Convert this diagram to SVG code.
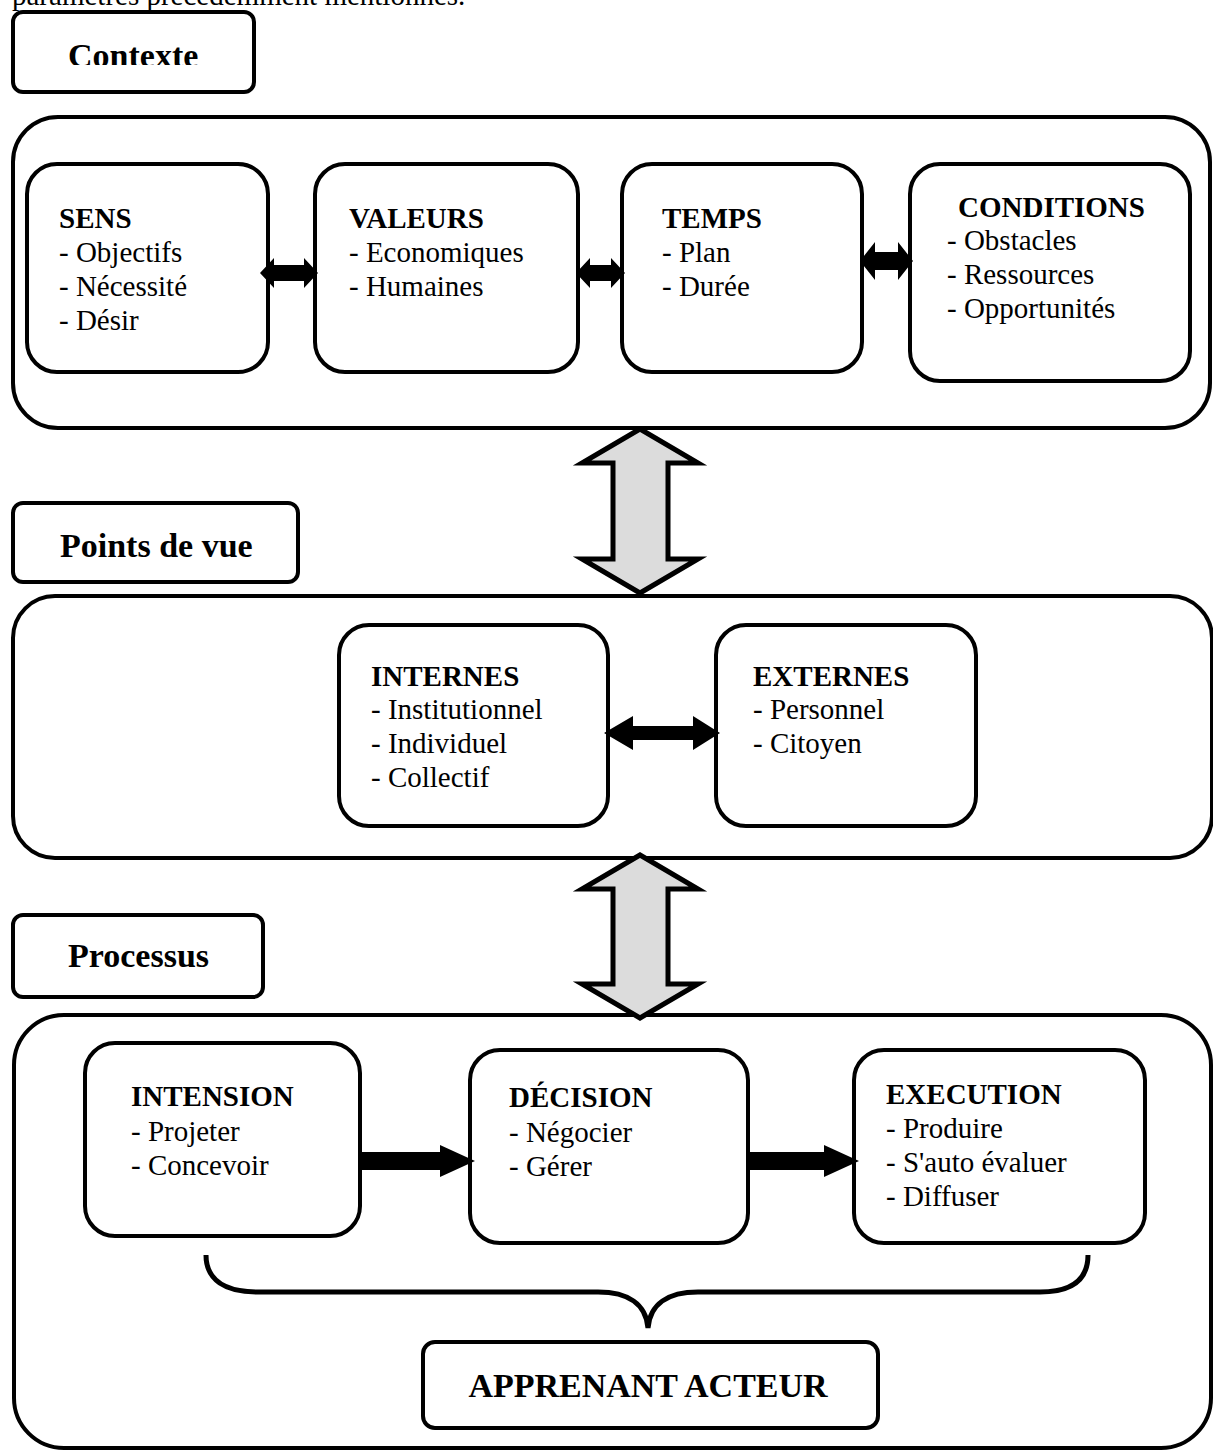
<svg xmlns="http://www.w3.org/2000/svg" width="1213" height="1450" viewBox="0 0 1213 1450">
  <style>
    .box { fill: #fff; stroke: #000; stroke-width: 4; }
    .t { font-family: "Liberation Serif", "Times New Roman", serif; font-size: 29px; fill: #000; }
    .b { font-weight: bold; }
    .title { font-family: "Liberation Serif", "Times New Roman", serif; font-size: 34px; font-weight: bold; fill: #000; }
    .arr { fill: #000; stroke: none; }
    .big { fill: #dcdcdc; stroke: #000; stroke-width: 5; stroke-linejoin: miter; }
  </style>
  <defs>
    <clipPath id="clipContexte">
      <rect x="14" y="14" width="238" height="51"/>
    </clipPath>
  </defs>
  <rect width="1213" height="1450" fill="#fff"/>

  <!-- running text above the figure, cut by the page edge -->
  <text class="t" x="12" y="5">paramètres précédemment mentionnés.</text>

  <!-- section: Contexte -->
  <g id="label-contexte">
    <rect class="box" x="13" y="12" width="241" height="80" rx="10"/>
    <text class="title" x="68" y="67" clip-path="url(#clipContexte)">Contexte</text>
  </g>
  <g id="frame-contexte">
    <rect class="box" x="13" y="117" width="1197" height="311" rx="45"/>
  </g>
  <g id="node-sens">
    <rect class="box" x="27" y="164" width="241" height="208" rx="30"/>
    <text class="t b" x="59" y="228">SENS</text>
    <text class="t" x="59" y="262">- Objectifs</text>
    <text class="t" x="59" y="296">- Nécessité</text>
    <text class="t" x="59" y="330">- Désir</text>
  </g>
  <g id="node-valeurs">
    <rect class="box" x="315" y="164" width="263" height="208" rx="30"/>
    <text class="t b" x="349" y="228">VALEURS</text>
    <text class="t" x="349" y="262">- Economiques</text>
    <text class="t" x="349" y="296">- Humaines</text>
  </g>
  <g id="node-temps">
    <rect class="box" x="622" y="164" width="240" height="208" rx="30"/>
    <text class="t b" x="662" y="228">TEMPS</text>
    <text class="t" x="662" y="262">- Plan</text>
    <text class="t" x="662" y="296">- Durée</text>
  </g>
  <g id="node-conditions">
    <rect class="box" x="910" y="164" width="280" height="217" rx="30"/>
    <text class="t b" x="958" y="217">CONDITIONS</text>
    <text class="t" x="947" y="250">- Obstacles</text>
    <text class="t" x="947" y="284">- Ressources</text>
    <text class="t" x="947" y="318">- Opportunités</text>
  </g>

  <!-- section: Points de vue -->
  <g id="label-points-de-vue">
    <rect class="box" x="13" y="503" width="285" height="79" rx="10"/>
    <text class="title" x="60" y="557">Points de vue</text>
  </g>
  <g id="frame-points-de-vue">
    <rect class="box" x="13" y="596" width="1199" height="262" rx="42"/>
  </g>
  <g id="node-internes">
    <rect class="box" x="339" y="625" width="269" height="201" rx="30"/>
    <text class="t b" x="371" y="686">INTERNES</text>
    <text class="t" x="371" y="719">- Institutionnel</text>
    <text class="t" x="371" y="753">- Individuel</text>
    <text class="t" x="371" y="787">- Collectif</text>
  </g>
  <g id="node-externes">
    <rect class="box" x="716" y="625" width="260" height="201" rx="30"/>
    <text class="t b" x="753" y="686">EXTERNES</text>
    <text class="t" x="753" y="719">- Personnel</text>
    <text class="t" x="753" y="753">- Citoyen</text>
  </g>

  <!-- section: Processus -->
  <g id="label-processus">
    <rect class="box" x="13" y="915" width="250" height="82" rx="10"/>
    <text class="title" x="68" y="967">Processus</text>
  </g>
  <g id="frame-processus">
    <rect class="box" x="14" y="1015" width="1197" height="433" rx="50"/>
  </g>
  <g id="node-intension">
    <rect class="box" x="85" y="1043" width="275" height="193" rx="30"/>
    <text class="t b" x="131" y="1106">INTENSION</text>
    <text class="t" x="131" y="1141">- Projeter</text>
    <text class="t" x="131" y="1175">- Concevoir</text>
  </g>
  <g id="node-decision">
    <rect class="box" x="470" y="1050" width="278" height="193" rx="30"/>
    <text class="t b" x="509" y="1107">DÉCISION</text>
    <text class="t" x="509" y="1142">- Négocier</text>
    <text class="t" x="509" y="1176">- Gérer</text>
  </g>
  <g id="node-execution">
    <rect class="box" x="854" y="1050" width="291" height="193" rx="30"/>
    <text class="t b" x="886" y="1104">EXECUTION</text>
    <text class="t" x="886" y="1138">- Produire</text>
    <text class="t" x="886" y="1172">- S'auto évaluer</text>
    <text class="t" x="886" y="1206">- Diffuser</text>
  </g>
  <g id="node-apprenant">
    <rect class="box" x="423" y="1342" width="455" height="86" rx="12"/>
    <text class="title" x="648" y="1397" text-anchor="middle" font-size="35">APPRENANT ACTEUR</text>
  </g>

  <!-- connectors -->
  <g id="connectors">
    <!-- two-headed arrows inside Contexte -->
    <polygon class="arr" points="260,273 274,258 274,265 304,265 304,258 318,273 304,288 304,281 274,281 274,288"/>
    <polygon class="arr" points="576,273 590,258 590,265 611,265 611,258 625,273 611,288 611,281 590,281 590,288"/>
    <polygon class="arr" points="860,261 875,242 875,252 898,252 898,242 913,261 898,280 898,270 875,270 875,280"/>
    <!-- two-headed arrow between INTERNES and EXTERNES -->
    <polygon class="arr" points="604,733 633,716 633,726 693,726 693,716 720,733 693,750 693,740 633,740 633,750"/>
    <!-- hollow links between sections -->
    <polygon class="big" points="640,429 698,463 668,463 668,559 698,559 640,593 582,559 613,559 613,463 582,463"/>
    <polygon class="big" points="640,855 698,889 668,889 668,984 698,984 640,1018 582,984 613,984 613,889 582,889"/>
    <!-- process flow arrows -->
    <polygon class="arr" points="361,1152 440,1152 440,1145 475,1161 440,1177 440,1170 361,1170"/>
    <polygon class="arr" points="747,1152 824,1152 824,1145 859,1161 824,1177 824,1170 747,1170"/>
    <!-- brace gathering the three steps -->
    <path d="M206,1255 C206,1280 225,1292 258,1292 L598,1292 C628,1292 646,1304 648,1328 C650,1304 668,1292 698,1292 L1040,1292 C1072,1292 1088,1280 1088,1255" fill="none" stroke="#000" stroke-width="5"/>
  </g>
</svg>
